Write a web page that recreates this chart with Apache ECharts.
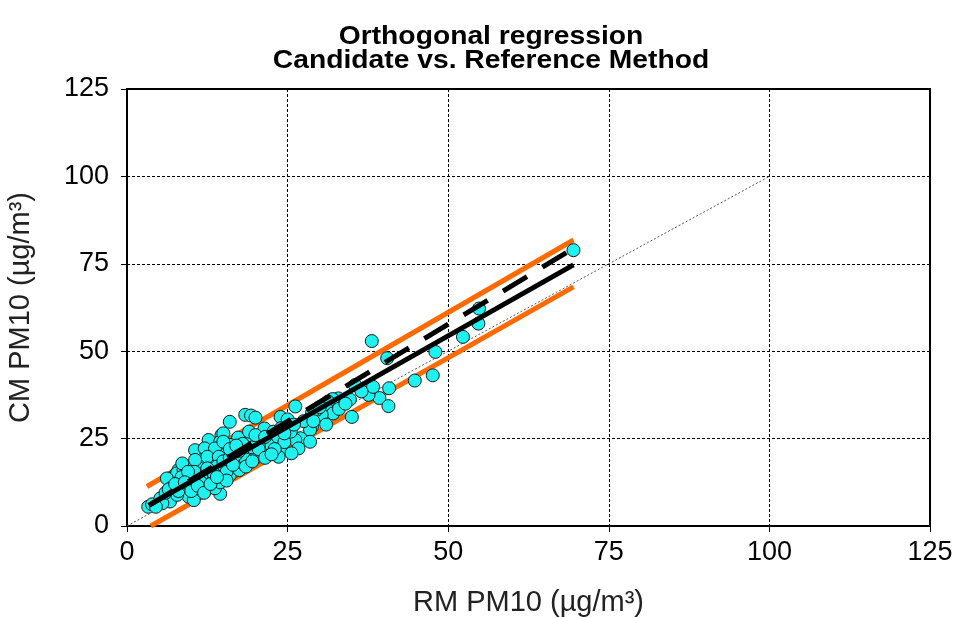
<!DOCTYPE html>
<html><head><meta charset="utf-8">
<script src="https://cdn.jsdelivr.net/npm/echarts@6/dist/echarts.min.js"></script>
<style>html,body{margin:0;padding:0;background:#fff}#c{width:956px;height:618px}</style>
</head><body><div id="c"></div>
<script>
const titleLines = ["Orthogonal regression", "Candidate vs. Reference Method"];
const xName = "RM PM10 (µg/m³)";
const yName = "CM PM10 (µg/m³)";
const axisTicks = [0, 25, 50, 75, 100, 125];

// measured pairs [RM, CM]
const points = [
 [69.5,78.9],[54.8,62.2],[54.7,57.9],[52.3,54.1],[48.0,49.8],[47.6,43.1],[44.8,41.6],[38.1,52.9],
 [40.5,48.0],[40.8,39.4],[39.3,36.6],[40.7,34.3],[37.6,37.5],[35.0,31.2],[34.7,36.2],[32.9,36.5],
 [32.0,36.3],[31.3,35.6],[31.1,33.4],[32.1,32.2],[30.3,31.8],[29.5,33.2],[28.8,32.4],[28.8,28.4],
 [35.5,40.3],[38.3,39.8],[26.2,34.2],[27.0,25.1],[28.5,27.5],[28.5,24.1],[23.9,31.2],[18.4,31.8],
 [19.3,31.6],[20.0,31.0],[16.0,29.8],[21.4,27.9],[17.3,25.3],[19.4,25.6],[14.7,26.0],[16.0,23.2],
 [23.0,24.9],[26.2,24.6],[26.7,22.2],[24.1,21.7],[22.8,27.0],[20.4,23.2],[22.0,22.7],[25.6,20.8],
 [20.4,20.3],[12.7,24.6],[23.6,19.8],[16.8,16.5],[14.5,9.2],[8.0,16.0],[7.5,14.6],[10.6,21.7],
 [12.1,22.2],[3.3,5.5],[6.2,7.9],[10.3,17.0],[12.7,18.4],[14.5,20.3],[14.5,24.1],[10.8,13.6],
 [9.3,10.3],[12.4,11.2],[3.9,6.2],[5.2,7.9],[6.2,8.4],[7.3,9.8],[7.5,13.2],[7.8,15.1],
 [8.8,16.0],[8.3,12.2],[9.1,10.8],[10.1,14.6],[10.4,17.4],[11.7,18.9],[11.2,16.5],[13.0,18.4],
 [13.5,19.8],[12.5,13.2],[11.9,11.2],[13.7,10.8],[6.7,7.0],[9.6,8.4],[11.2,9.8],[7.8,8.9],
 [10.4,7.4],[15.0,17.0],[14.5,14.6],[6.2,13.6],[15.0,26.5],[13.7,22.2],[12.5,19.8],[14.3,19.8],
 [15.0,24.1],[10.6,18.9],[8.6,17.9],[16.5,20.5],[18.0,22.0],[17.0,18.0],[19.0,21.0],[21.0,24.0],
 [18.5,19.0],[16.0,14.5],[17.5,16.0],[20.0,19.5],[22.0,25.0],[24.0,28.0],[25.5,27.0],[27.5,30.0],
 [30.0,34.0],[29.0,30.0],[33.0,33.5],[31.0,29.0],[9.0,13.0],[10.0,12.0],[11.0,14.0],[12.0,15.0],
 [13.0,16.0],[14.0,17.0],[15.0,18.5],[16.0,19.5],[5.5,6.5],[4.5,5.5],[6.0,9.5],[7.0,11.0],
 [8.0,10.0],[9.5,11.5],[10.5,15.5],[12.0,14.0],[13.5,13.5],[15.5,15.5],[17.0,20.5],[18.0,23.5],
 [19.5,22.5],[21.0,21.0],[22.5,23.0],[23.5,25.5],[24.5,24.0],[25.0,30.5],[36.5,38.5],[34.0,35.0],
 [8.5,14.0],[9.5,15.5],[11.5,12.5],[12.5,16.5],[13.5,15.0],[14.5,12.5],[15.5,13.0],[16.5,17.5],
 [17.5,21.5],[18.5,17.0],[19.5,18.5],[20.5,22.0],[21.5,19.5],[23.0,22.0],[6.5,10.5],[7.5,12.0],
 [9.0,12.5],[10.0,10.0],[11.0,11.5],[12.0,9.5],[13.0,12.0],[14.0,14.0],[16.0,22.0],[17.0,23.0],
 [19.0,27.0],[20.0,26.0],[21.5,25.5],[22.5,20.5],[24.5,26.5],[26.0,29.0]
];

const identityLine = [[0, 0], [100, 100]];
const upperLimit = [[3.1, 11.3], [69.5, 81.8]];
const lowerLimit = [[3.7, 0], [69.5, 68.4]];
const fitSolid = [[3.4, 5.9], [69.5, 74.7]];
const fitDashed = [[3.4, 5.9], [69.5, 79.4]];

const chart = echarts.init(document.getElementById('c'));
const FF = '"Liberation Sans", Arial, sans-serif';
chart.setOption({
  animation: false,
  backgroundColor: '#fff',
  graphic: [
    {type: 'text', x: 491, y: 37, scaleX: 1.13, style: {text: titleLines[0], textAlign: 'center', textVerticalAlign: 'middle', font: 'bold 25px ' + FF, fill: '#000'}},
    {type: 'text', x: 491, y: 61, scaleX: 1.13, style: {text: titleLines[1], textAlign: 'center', textVerticalAlign: 'middle', font: 'bold 25px ' + FF, fill: '#000'}}
  ],
  grid: {left: 127, right: 26, top: 89, bottom: 92, containLabel: false, outerBoundsMode: 'none',
         show: true, borderColor: '#000', borderWidth: 2, backgroundColor: '#fff'},
  xAxis: {
    type: 'value', min: axisTicks[0], max: axisTicks[axisTicks.length-1], interval: 25,
    name: xName, nameLocation: 'middle', nameGap: 62,
    nameTextStyle: {fontSize: 29, color: '#222', fontFamily: FF},
    axisLine: {show: true, onZero: false, lineStyle: {color: '#000', width: 2}},
    axisTick: {show: true, length: 6, lineStyle: {color: '#000', width: 1}},
    axisLabel: {fontSize: 27, margin: 13, color: '#000', fontFamily: FF},
    splitLine: {show: true, lineStyle: {color: '#000', type: [3, 2], width: 1}}
  },
  yAxis: {
    type: 'value', min: axisTicks[0], max: axisTicks[axisTicks.length-1], interval: 25,
    name: yName, nameLocation: 'middle', nameGap: 92, nameRotate: 90,
    nameTextStyle: {fontSize: 29, color: '#222', fontFamily: FF},
    axisLine: {show: true, onZero: false, lineStyle: {color: '#000', width: 2}},
    axisTick: {show: true, length: 6, lineStyle: {color: '#000', width: 1}},
    axisLabel: {fontSize: 27, margin: 18, color: '#000', fontFamily: FF},
    splitLine: {show: true, lineStyle: {color: '#000', type: [3, 2], width: 1}}
  },
  series: [
    {type: 'line', data: identityLine, symbol: 'none', z: 2, lineStyle: {color: '#555', width: 1, type: [2, 2]}},
    {type: 'line', data: upperLimit, symbol: 'none', z: 3, lineStyle: {color: '#FF6A00', width: 5}},
    {type: 'line', data: lowerLimit, symbol: 'none', z: 3, lineStyle: {color: '#FF6A00', width: 5}},
    {type: 'scatter', data: points, symbolSize: 13, z: 4,
     itemStyle: {color: '#1EF2F0', borderColor: '#1a1a1a', borderWidth: 1, opacity: 1}},
    {type: 'line', data: fitSolid, symbol: 'none', z: 5, lineStyle: {color: '#000', width: 5}},
    {type: 'line', data: fitDashed, symbol: 'none', z: 6, lineStyle: {color: '#000', width: 5, type: [28, 18]}}
  ]
});
</script></body></html>
